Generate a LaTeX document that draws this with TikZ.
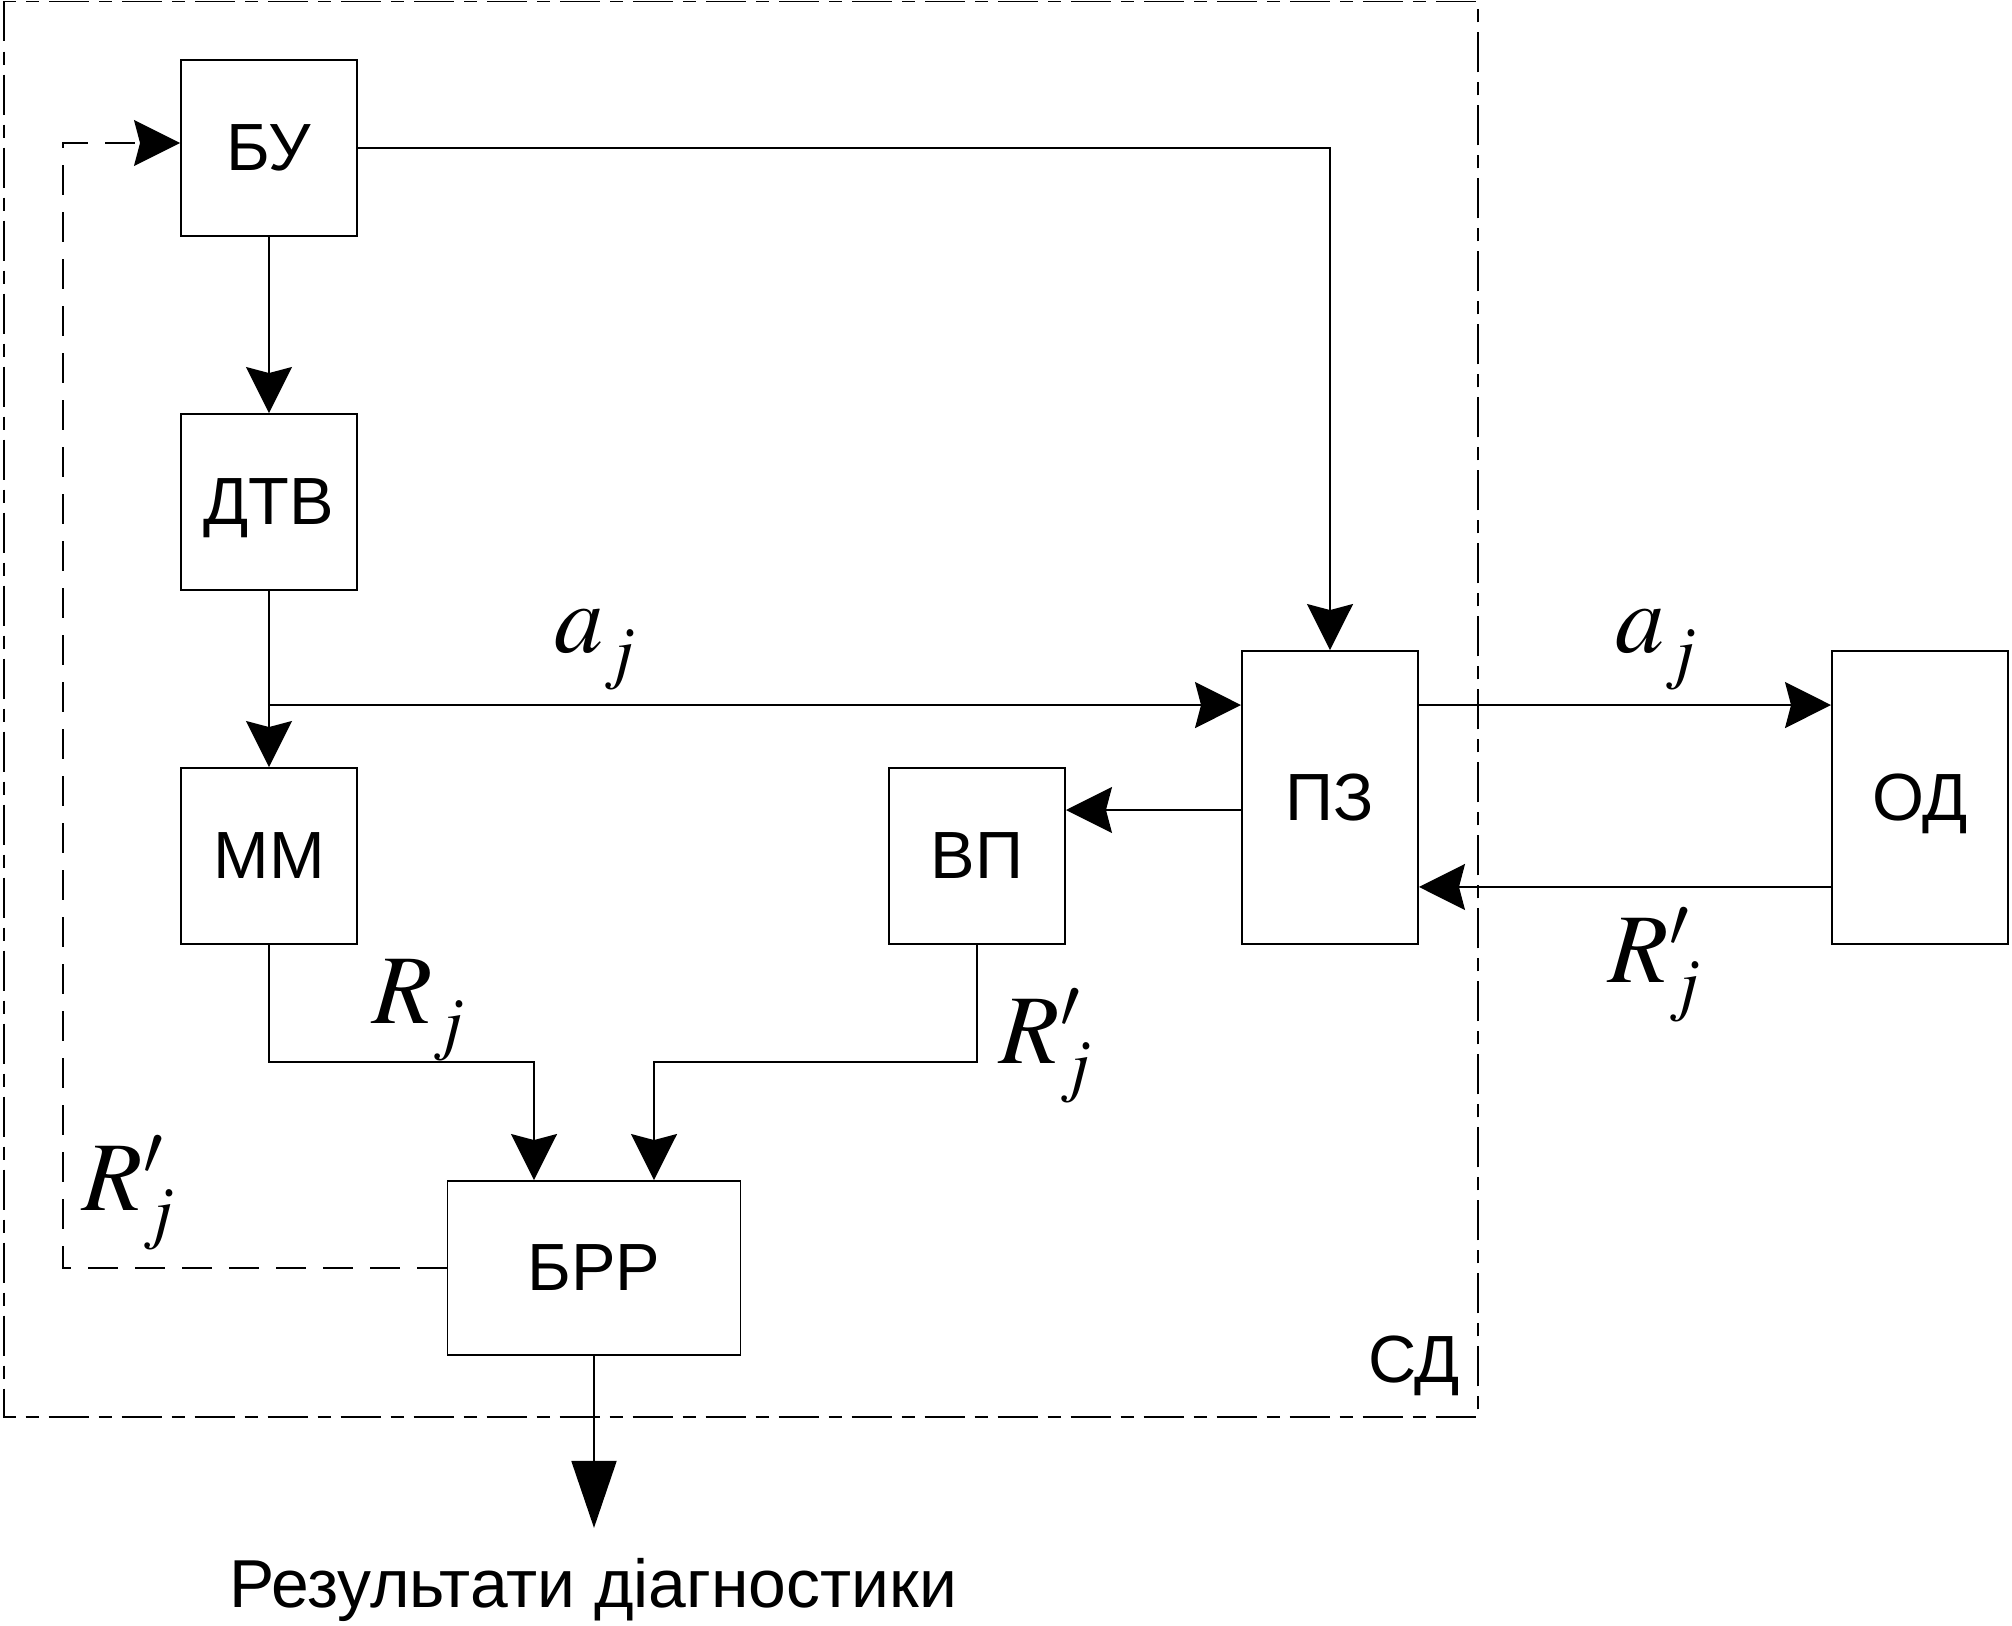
\documentclass[tikz,border=0pt]{standalone}
\usepackage{mathptmx}
\usepackage{fontspec}
\setmainfont{Liberation Sans}
\usetikzlibrary{arrows.meta,positioning,calc}
\DeclareMathSizes{28}{28}{20}{14}
\newcommand{\lowsub}[1]{_{\raisebox{-0.09cm}{$\scriptstyle #1$}}}

\tikzset{
  block/.style={draw, line width=0.55pt, minimum width=1.76cm, minimum height=1.76cm,
    inner sep=0pt, text depth=0pt, font=\fontsize{19}{22}\selectfont},
  tallblock/.style={block, minimum height=2.93cm},
  wideblock/.style={block, minimum width=2.93cm, minimum height=1.74cm},
  sig/.style={inner sep=0pt, anchor=base west, font=\fontsize{28}{30}\selectfont},
  frameline/.style={line width=0.55pt, dash pattern=on 0.40cm off 0.10cm on 0.13cm off 0.10cm},
  backline/.style={line width=0.55pt, dash pattern=on 0.30cm off 0.17cm},
}

\begin{document}
\begin{tikzpicture}[on grid, line width=0.55pt,
    >={Stealth[length=0.46cm,width=0.46cm,inset=0.06cm]}]
   \useasboundingbox (0,0) rectangle (20.12,-16.25);
   % system boundary
   \draw[frameline] (0.04,-0.015) rectangle (14.78,-14.17);
   \node[anchor=base, inner sep=0pt, font=\fontsize{19}{22}\selectfont] (SD) at (14.14,-13.82) {СД};

   \node[block] (BU) at (2.69,-1.48) {БУ};
   \node[block] (DTV) [below=3.54cm of BU] {ДТВ};
   \node[block] (MM) [below=3.54cm of DTV] {ММ};
   \node[block] (VP) [right=7.08cm of MM] {ВП};
   \node[tallblock] (PZ) at (13.30,-7.975) {ПЗ};
   \node[tallblock] (OD) [right=5.90cm of PZ] {ОД};
   \node[wideblock] (BRR) at (5.94,-12.68) {БРР};
   \node[anchor=base, inner sep=0pt, font=\fontsize{19.3}{22}\selectfont] (res) at (5.93,-16.07) {Результати діагностики};

   \coordinate (pzin) at ([yshift=-0.55cm]PZ.north west);
   \coordinate (split) at (DTV.south |- pzin);
   \coordinate (pzout) at ([yshift=-0.125cm]PZ.west);
   \coordinate (odout) at ([yshift=0.58cm]OD.south west);
   \coordinate (in1) at ([xshift=-0.6cm]BRR.north);
   \coordinate (in2) at ([xshift=0.6cm]BRR.north);
   \coordinate (fbc) at (0.63,-1.43);

   \draw[->] (BU) -- (DTV);
   \draw[->] (DTV) -- (MM);
   \draw[->] (BU.east) -| (PZ.north);
   \draw[->] (split) -- (pzin);
   \draw[->] (pzin -| PZ.east) -- (pzin -| OD.west);
   \draw[->] (odout) -- (odout -| PZ.east);
   \draw[->] (pzout) -- (pzout -| VP.east);
   \draw[->] (MM.south) |- ([yshift=1.18cm]in1) -- (in1);
   \draw[->] (VP.south) |- ([yshift=1.18cm]in2) -- (in2);
   \draw[backline,->] (BRR.west) -| (fbc) -- (fbc -| BU.west);
   \draw[-{Triangle[length=0.67cm,width=0.45cm]}, shorten >=0.29cm] (BRR.south) -- (BRR.south |- res.north);

   % signals
   \node[sig] (a1) at (5.54,-6.52) {$a\lowsub{j}$};
   \node[sig] (a2) at (16.15,-6.52) {$a\lowsub{j}$};
   \node[sig] (r1) at (16.08,-9.82) {$R'_j$};
   \node[sig] (r2) at (3.72,-10.23) {$R\lowsub{j}$};
   \node[sig] (r3) at (9.99,-10.63) {$R'_j$};
   \node[sig] (r4) at (0.82,-12.10) {$R'_j$};
\end{tikzpicture}
\end{document}
